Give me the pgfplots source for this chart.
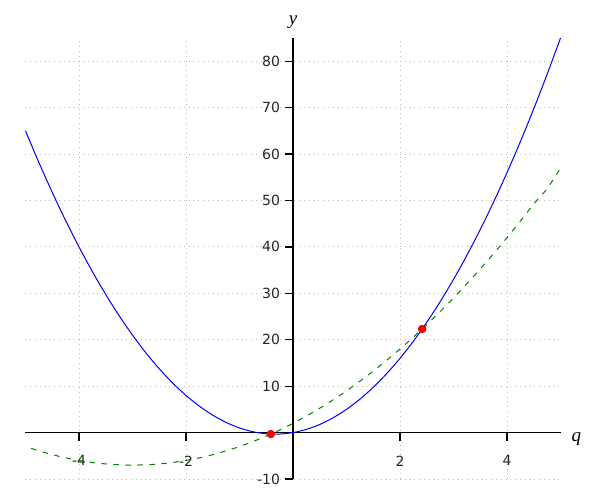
\documentclass[border=0pt]{standalone}
\usepackage{fontspec}
\setmainfont{DejaVu Sans}
\newfontfamily\lserif{Liberation Serif}
\usepackage{pgfplots}
\pgfplotsset{compat=1.18}
\definecolor{mgreen}{RGB}{0,128,0}
\definecolor{gridgray}{RGB}{185,185,185}
\begin{document}
\begin{tikzpicture}
\path[use as bounding box] (-12.75pt,-10.5pt) rectangle (287.25pt,239.5pt);
\begin{axis}[
  at={(0pt,0pt)}, anchor=south west,
  scale only axis, width=267.5pt, height=220.5pt,
  xmin=-5, xmax=5, ymin=-10, ymax=85,
  axis lines=middle,
  axis line style={black, line width=0.6pt, -},
  xtick={-4,-2,2,4}, ytick={-10,10,20,30,40,50,60,70,80},
  tick align=outside,
  major tick length=4pt,
  tick style={black, line width=0.6pt},
  grid=major,
  grid style={gridgray, dotted, line width=0.5pt},
  /pgf/number format/assume math mode=true,
  ticklabel style={font=\fontsize{7pt}{8pt}\selectfont, text=black!85},
  xticklabel style={anchor=north, yshift=-4pt},
  yticklabel style={anchor=east, xshift=1pt},
  xlabel={\lserif\itshape q}, ylabel={\lserif\itshape y},
  every axis x label/.style={at={(axis cs:5,0)}, anchor=west, xshift=2pt, yshift=-3pt, font=\fontsize{9.5pt}{10pt}\selectfont},
  every axis y label/.style={at={(axis cs:0,85)}, anchor=south, yshift=1pt, font=\fontsize{9.5pt}{10pt}\selectfont},
  clip=false,
]
\addplot[blue, line width=0.5pt, smooth] coordinates {
(-5,65) (-4.75,58.1875) (-4.5,51.75) (-4.25,45.6875) (-4,40) (-3.75,34.6875)
(-3.5,29.75) (-3.25,25.1875) (-3,21) (-2.75,17.1875) (-2.5,13.75) (-2.25,10.6875)
(-2,8) (-1.75,5.6875) (-1.5,3.75) (-1.25,2.1875) (-1,1) (-0.75,0.1875)
(-0.5,-0.25) (-0.25,-0.3125) (0,0) (0.25,0.6875) (0.5,1.75) (0.75,3.1875)
(1,5) (1.25,7.1875) (1.5,9.75) (1.75,12.6875) (2,16) (2.25,19.6875)
(2.5,23.75) (2.75,28.1875) (3,33) (3.25,38.1875) (3.5,43.75) (3.75,49.6875)
(4,56) (4.25,62.6875) (4.5,69.75) (4.75,77.1875) (5,85)
};
\addplot[mgreen, line width=0.5pt, dash pattern=on 2.7pt off 3.3pt, dash phase=3pt, smooth] coordinates {
(-5,-3) (-4.75,-3.9375) (-4.5,-4.75) (-4.25,-5.4375) (-4,-6) (-3.75,-6.4375)
(-3.5,-6.75) (-3.25,-6.9375) (-3,-7) (-2.75,-6.9375) (-2.5,-6.75) (-2.25,-6.4375)
(-2,-6) (-1.75,-5.4375) (-1.5,-4.75) (-1.25,-3.9375) (-1,-3) (-0.75,-1.9375)
(-0.5,-0.75) (-0.25,0.5625) (0,2) (0.25,3.5625) (0.5,5.25) (0.75,7.0625)
(1,9) (1.25,11.0625) (1.5,13.25) (1.75,15.5625) (2,18) (2.25,20.5625)
(2.5,23.25) (2.75,26.0625) (3,29) (3.25,32.0625) (3.5,35.25) (3.75,38.5625)
(4,42) (4.25,45.5625) (4.5,49.25) (4.75,52.5625) (5,57)
};
\addplot[only marks, mark=*, mark size=1.9pt, red, mark options={draw=red, fill=red}] coordinates {
(-0.41421,-0.31371) (2.41421,22.31371)
};
\end{axis}
\end{tikzpicture}
\end{document}
